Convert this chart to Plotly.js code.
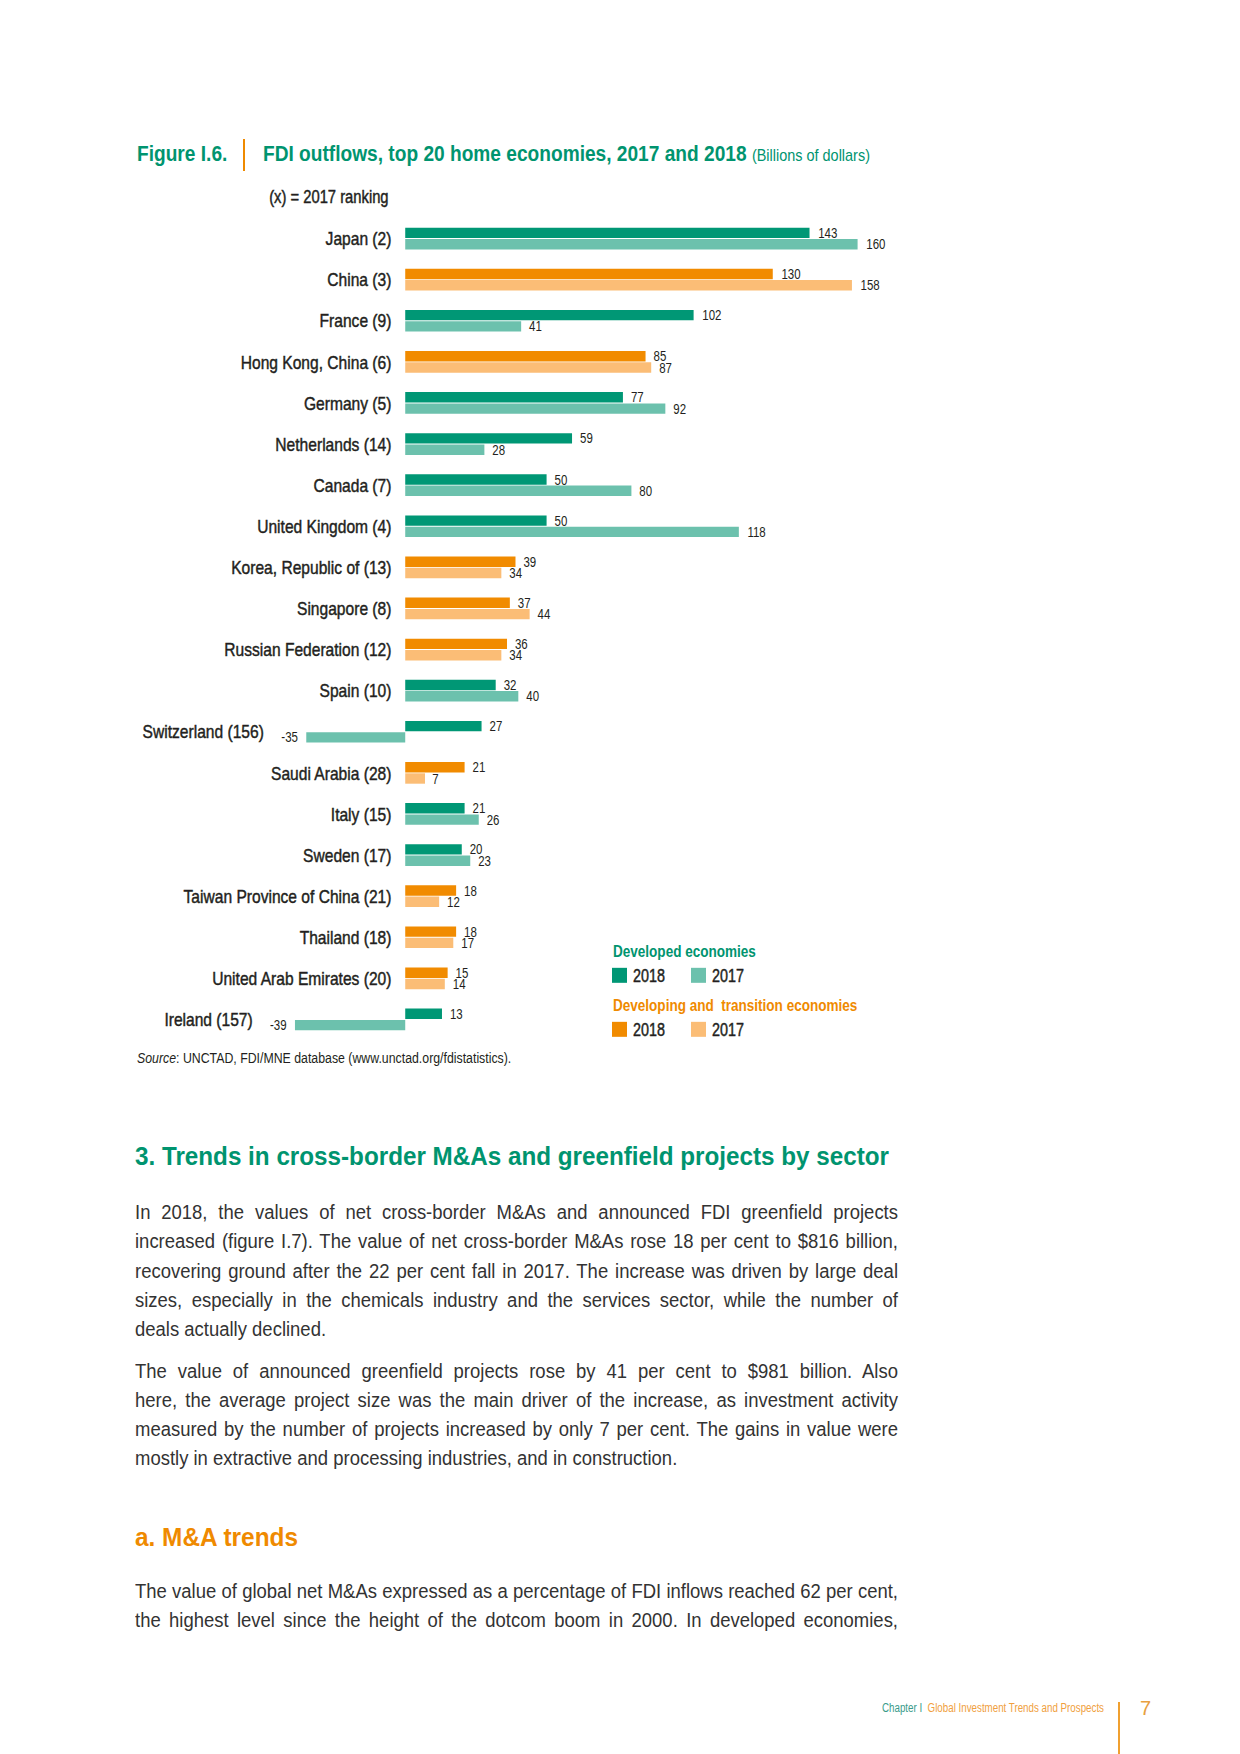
<!DOCTYPE html>
<html>
<head>
<meta charset="utf-8">
<script src="https://cdn.plot.ly/plotly-3.0.1.min.js"></script>
<style>
html,body{margin:0;padding:0;background:#fff;}
body{width:1240px;height:1754px;position:relative;overflow:hidden;
  font-family:"Liberation Sans",Arial,sans-serif;color:#231f20;}
#chart{position:absolute;left:0;top:0;width:1240px;height:1080px;}
#chart text.legendtext, #chart text.legend2text{transform:translate(-18px,0);}
.ln{position:absolute;left:135px;width:763px;text-align:justify;text-align-last:justify;
  font-size:19.5px;line-height:24px;height:24px;color:#333333;}
.ln.last{text-align-last:left;}
.h{position:absolute;left:135px;font-weight:bold;line-height:32px;height:32px;white-space:nowrap;}
.foot{position:absolute;font-size:12.5px;line-height:16px;white-space:nowrap;}
</style>
</head>
<body>
<div id="chart"></div>

<div class="h fit" data-w="754" style="top:1140px;font-size:25.5px;color:#00946f;">3. Trends in cross-border M&amp;As and greenfield projects by sector</div>

<div class="ln" style="top:1200px;">In 2018, the values of net cross-border M&amp;As and announced FDI greenfield projects</div>
<div class="ln" style="top:1229px;">increased (figure I.7). The value of net cross-border M&amp;As rose 18 per cent to $816 billion,</div>
<div class="ln" style="top:1259px;">recovering ground after the 22 per cent fall in 2017. The increase was driven by large deal</div>
<div class="ln" style="top:1288px;">sizes, especially in the chemicals industry and the services sector, while the number of</div>
<div class="ln last" style="top:1317px;">deals actually declined.</div>

<div class="ln" style="top:1359px;">The value of announced greenfield projects rose by 41 per cent to $981 billion. Also</div>
<div class="ln" style="top:1388px;">here, the average project size was the main driver of the increase, as investment activity</div>
<div class="ln" style="top:1417px;">measured by the number of projects increased by only 7 per cent. The gains in value were</div>
<div class="ln last" style="top:1446px;">mostly in extractive and processing industries, and in construction.</div>

<div class="h fit" data-w="163" style="top:1521px;font-size:25.5px;color:#ef8a00;">a. M&amp;A trends</div>

<div class="ln" style="top:1579px;">The value of global net M&amp;As expressed as a percentage of FDI inflows reached 62 per cent,</div>
<div class="ln" style="top:1608px;">the highest level since the height of the dotcom boom in 2000. In developed economies,</div>

<div class="foot fit" data-w="222" style="left:882px;top:1700px;"><span style="color:#3a9b8a;">Chapter I</span>&nbsp; <span style="color:#f0a040;">Global Investment Trends and Prospects</span></div>
<div style="position:absolute;left:1118px;top:1702px;width:1.5px;height:52px;background:#f0a030;"></div>
<div style="position:absolute;left:1140px;top:1695px;font-size:20px;line-height:26px;color:#e8a040;">7</div>

<script>
// ---------------- data ----------------
const categories = ["Japan","China","France","Hong Kong, China","Germany","Netherlands","Canada",
  "United Kingdom","Korea, Republic of","Singapore","Russian Federation","Spain","Switzerland",
  "Saudi Arabia","Italy","Sweden","Taiwan Province of China","Thailand","United Arab Emirates","Ireland"];
const rank2017 = [2,3,9,6,5,14,7,4,13,8,12,10,156,28,15,17,21,18,20,157];
const economyGroup = ["dev","dvg","dev","dvg","dev","dev","dev","dev","dvg","dvg","dvg","dev","dev",
  "dvg","dev","dev","dvg","dvg","dvg","dev"];
const values2018 = [143,130,102,85,77,59,50,50,39,37,36,32,27,21,21,20,18,18,15,13];
const values2017 = [160,158,41,87,92,28,80,118,34,44,34,40,-35,7,26,23,12,17,14,-39];
const seriesNames = ["2018","2017"];

// ---------------- style ----------------
const FONT = '"Liberation Sans",Arial,sans-serif';
const SQUEEZE = 0.82;           // condensed look for chart texts
const INK = '#231f20';
const GREEN = '#00946f';
const ORANGE = '#ef8a00';
const COLORS = {dev:{"2018":'#009775',"2017":'#6cc1ad'}, dvg:{"2018":'#f18b00',"2017":'#fbbd76'}};

const W = 1240, H = 1080;
const M = {l:278, r:340, t:218, b:40};
const xr = [-45, 175];
const pw = W - M.l - M.r, ph = H - M.t - M.b;
const px = x => (x - M.l) / pw;
const py = y => 1 - (y - M.t) / ph;
const NB = '\u00a0';

function pick(vals, g){ return vals.map((v,i) => economyGroup[i] === g ? v : null); }
function labels(vals){
  return vals.map(v => v === null ? '' : (v < 0 ? String(v) + NB : NB + String(v)));
}

function barTrace(g, year, vals, legendId){
  const xv = pick(vals, g);
  return {
    type:'bar', orientation:'h', name:year, x:xv, y:categories,
    offsetgroup:year, legend:legendId,
    marker:{color:COLORS[g][year], line:{width:0}},
    text:labels(xv), textposition:'outside', cliponaxis:false, constraintext:'none',
    textfont:{family:FONT, size:14, color:INK},
    outsidetextfont:{family:FONT, size:14, color:INK},
    hovertemplate:'%{y}: %{x}<extra>'+year+'</extra>'
  };
}

const traces = [
  barTrace('dev', seriesNames[0], values2018, 'legend'),
  barTrace('dev', seriesNames[1], values2017, 'legend'),
  barTrace('dvg', seriesNames[0], values2018, 'legend2'),
  barTrace('dvg', seriesNames[1], values2017, 'legend2'),
  { // axis segment per category
    type:'scatter', mode:'markers', x:categories.map(() => 0), y:categories,
    marker:{size:1, color:'rgba(0,0,0,0)'},
    error_y:{type:'constant', value:0.35, width:0, thickness:1, color:INK},
    showlegend:false, hoverinfo:'skip', cliponaxis:false
  }
];

const tickText = categories.map((c,i) => values2017[i] < 0 ? '' : c + ' (' + rank2017[i] + ')');

const annotations = [
  {xref:'paper', yref:'paper', x:px(135), y:py(153), xanchor:'left', yanchor:'middle', align:'left',
   text:'<b>Figure I.6.</b>', showarrow:false, font:{family:FONT, size:22.5, color:GREEN}},
  {xref:'paper', yref:'paper', x:px(391), y:py(197), xanchor:'right', yanchor:'middle', align:'right',
   text:'(x) = 2017 ranking', showarrow:false, font:{family:FONT, size:18, color:INK}},
  {xref:'paper', yref:'paper', x:px(135), y:py(1058), xanchor:'left', yanchor:'middle', align:'left',
   text:'<i>Source</i>: UNCTAD, FDI/MNE database (www.unctad.org/fdistatistics).', showarrow:false,
   font:{family:FONT, size:14, color:INK}}
];
categories.forEach((c,i) => {
  if (values2017[i] < 0) {
    annotations.push({x:values2017[i], y:c, xref:'x', yref:'y', xanchor:'right', yanchor:'middle',
      align:'right', xshift:-40, text:c + ' (' + rank2017[i] + ')', showarrow:false,
      font:{family:FONT, size:19, color:INK}});
  }
});

const legendBase = {
  orientation:'h', xref:'container', yref:'container', xanchor:'left', yanchor:'top',
  font:{family:FONT, size:17.5, color:INK}, bgcolor:'rgba(0,0,0,0)', borderwidth:0,
  itemwidth:30, traceorder:'normal', entrywidth:34, entrywidthmode:'pixels',
  itemclick:false, itemdoubleclick:false
};

const layout = {
  width:W, height:H,
  margin:{l:M.l, r:M.r, t:M.t, b:M.b, pad:0, autoexpand:false},
  paper_bgcolor:'#ffffff', plot_bgcolor:'rgba(0,0,0,0)',
  font:{family:FONT, color:INK},
  title:{
    text:'<b>FDI outflows, top 20 home economies, 2017 and 2018</b> <span style="font-size:17px">(Billions of dollars)</span>',
    xref:'container', yref:'container', x:263/W, xanchor:'left', y:1-153/H, yanchor:'middle',
    font:{family:FONT, size:22.5, color:GREEN}
  },
  barmode:'group', bargap:0.45, bargroupgap:0.08,
  xaxis:{range:xr, visible:false, fixedrange:true, zeroline:false, showgrid:false},
  yaxis:{
    type:'category', categoryorder:'array', categoryarray:categories,
    range:[categories.length - 0.5, -0.5], fixedrange:true,
    tickmode:'array', tickvals:categories, ticktext:tickText,
    anchor:'free', position:(0 - xr[0]) / (xr[1] - xr[0]),
    showline:false, showgrid:false, zeroline:false,
    ticks:'outside', ticklen:10, tickcolor:'rgba(0,0,0,0)',
    tickfont:{family:FONT, size:19, color:INK}, automargin:false
  },
  showlegend:true,
  legend:Object.assign({}, legendBase, {x:611/W, y:1-936/H,
    title:{text:'<b>Developed economies</b>', side:'top', font:{family:FONT, size:16.5, color:GREEN}}}),
  legend2:Object.assign({}, legendBase, {x:611/W, y:1-990/H,
    title:{text:'<b>Developing and  transition economies</b>', side:'top', font:{family:FONT, size:16.5, color:ORANGE}}}),
  annotations:annotations,
  shapes:[{type:'line', xref:'paper', yref:'paper', x0:px(244), x1:px(244), y0:py(139), y1:py(171),
    line:{color:ORANGE, width:2}}]
};

function squeezeFor(s){
  if (/^FDI outflows|^Figure/.test(s)) return 0.85;
  if (/^Source/.test(s)) return 0.88;
  return SQUEEZE;
}

function postProcess(gd){
  // condensed lettering
  gd.querySelectorAll('svg text').forEach(t => {
    if (t.dataset.sq) return;
    const s = t.textContent;
    if (!s.trim()) return;
    const w = t.getComputedTextLength();
    if (!(w > 0)) return;
    t.setAttribute('textLength', (w * squeezeFor(s)).toFixed(2));
    t.setAttribute('lengthAdjust', 'spacingAndGlyphs');
    t.dataset.sq = '1';
  });
  // medium weight for the dark labels
  gd.querySelectorAll('.ytick text, text.legendtext, text.legend2text, .annotation-text').forEach(t => {
    const s = t.textContent;
    if (/^Figure|^Source/.test(s)) return;
    t.style.stroke = INK;
    t.style.strokeWidth = '0.45px';
  });
  // legend swatches: larger and a little to the left (every legend)
  gd.querySelectorAll('.legendpoints path').forEach(p => {
    if (p.dataset.mv) return;
    const bb = p.getBBox();
    if (!(bb.width > 0)) return;
    const cx = bb.x + bb.width / 2, cy = bb.y + bb.height / 2;
    const tf = p.getAttribute('transform') || '';
    p.setAttribute('transform', 'translate(-11.5,0) ' + tf +
      ' translate(' + cx + ',' + cy + ') scale(1.25) translate(' + (-cx) + ',' + (-cy) + ')');
    p.dataset.mv = '1';
  });
}

function layoutHtmlText(){
  document.querySelectorAll('.fit').forEach(el => {
    el.style.transformOrigin = '0 50%';
    const w = el.getBoundingClientRect().width;
    el.style.transform = 'scaleX(' + (parseFloat(el.dataset.w) / w) + ')';
  });
  const lines = Array.from(document.querySelectorAll('.ln'));
  lines.forEach(l => { l.style.whiteSpace = 'nowrap'; l.style.width = 'auto'; });
  const full = lines.filter(l => !l.classList.contains('last'));
  const maxW = Math.max.apply(null, full.map(l => l.getBoundingClientRect().width)) + 2;
  const s = Math.min(1, 763 / maxW);
  lines.forEach(l => {
    l.style.whiteSpace = 'normal';
    l.style.width = (763 / s) + 'px';
    l.style.transformOrigin = '0 0';
    l.style.transform = 'scaleX(' + s + ')';
  });
}

document.fonts.ready.then(() => {
  layoutHtmlText();
  Plotly.newPlot('chart', traces, layout, {displayModeBar:false, staticPlot:true})
    .then(gd => {
      postProcess(gd);
      setTimeout(() => postProcess(gd), 60);
    });
});
</script>
</body>
</html>
